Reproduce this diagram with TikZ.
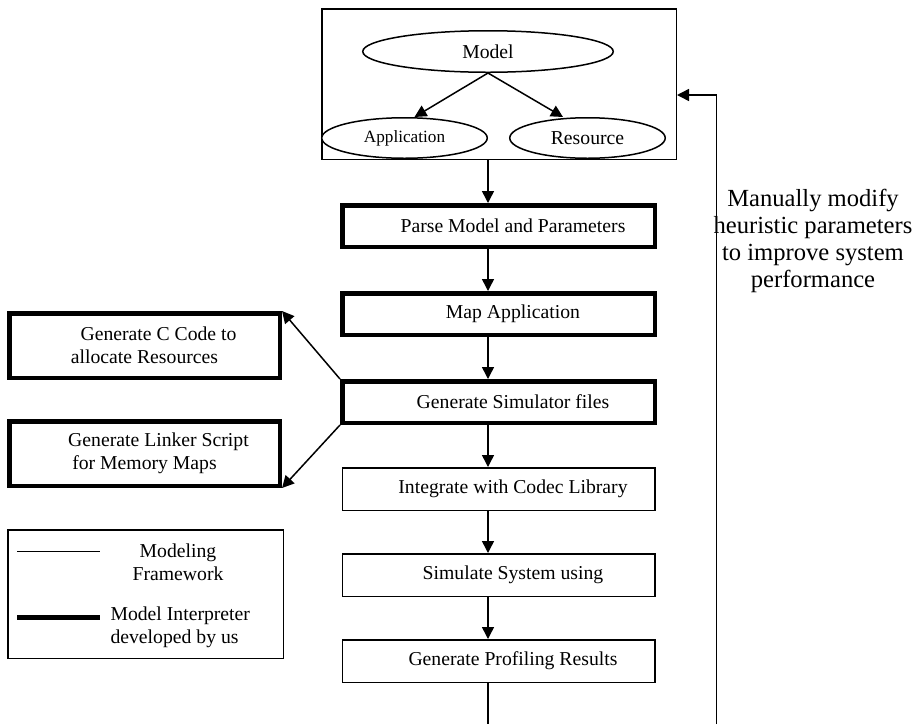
\documentclass[tikz,border=0pt]{standalone}
\usepackage{fontspec}
\setmainfont{Liberation Serif}
\usepackage{tikz}
\usetikzlibrary{positioning}
\usetikzlibrary{shapes.geometric}
\usetikzlibrary{arrows.meta}
\newcommand{\boxfont}{\fontsize{19.7}{22.6}\selectfont}
\tikzset{thinbox/.style = {draw, line width=1.5pt, minimum width=312.5pt, minimum height=42.5pt, font=\boxfont, execute at begin node={\hspace*{29pt}}}}
\tikzset{thickbox/.style = {thinbox, line width=4.5pt, minimum height=41.5pt}}
\tikzset{sidebox/.style = {draw, line width=4.5pt, minimum width=270.5pt, minimum height=64.5pt, align=center, font=\boxfont}}
\tikzset{oval/.style = {draw, ellipse, line width=1.5pt, fill=white, font=\boxfont}}
\tikzset{arr/.style = {line width=1.5pt, -{Triangle[length=12pt,width=12pt]}}}

\begin{document}
\begin{tikzpicture}[x=1pt, y=-1pt,
  node distance = 42pt,
]
\useasboundingbox (0,0) rectangle (922,724);

% model
\node[draw, line width=1.5pt, minimum width=354.5pt, minimum height=150.5pt] (modelbox) at (499,84) {};
\node[oval, minimum width=250.5pt, minimum height=41.5pt] (model) at (488,51.5) {Model};
\node[oval, minimum width=165.5pt, minimum height=40.5pt, font=\fontsize{17.2}{20}\selectfont] (app) at (404.5,138) {Application};
\node[oval, minimum width=155.5pt, minimum height=40.5pt] (res) at (587.5,138) {Resource};

% flow
\node[thickbox] (parse) at (498.5,226) {Parse Model and Parameters};
\node[thickbox, below=of parse] (map) {Map Application};
\node[thickbox, below=of map] (simfiles) {Generate Simulator files};
\node[thinbox, below=of simfiles] (codec) {Integrate with Codec Library};
\node[thinbox, below=of codec] (simulate) {Simulate System using};
\node[thinbox, below=of simulate] (profile) {Generate Profiling Results};

% generated files
\node[sidebox] (ccode) at (144.5,345.5) {\hspace*{28pt}Generate C Code to\\allocate Resources};
\node[sidebox, below=39pt of ccode] (linker) {\hspace*{28pt}Generate Linker Script\\for Memory Maps};

% legend
\node[draw, line width=1.5pt, minimum width=275.5pt, minimum height=128.5pt] (legend) at (145.5,594) {};
\draw[line width=1pt] (17,551) -- (100,551);
\draw[line width=5pt] (17,617) -- (100,617);
\node[font=\boxfont, align=center] (thinkey) at (178,562) {Modeling\\Framework};
\node[font=\boxfont, align=left, anchor=west] (thickkey) at (107,627.5) {Model Interpreter\\developed by us};

\node[font=\fontsize{24.6}{26.7}\selectfont, align=center] (manual) at (813,241) {Manually modify\\heuristic parameters\\to improve system\\performance};

\draw[arr]  (model.south) -- ([xshift=10pt]app.north);
\draw[arr]  (model.south) -- ([xshift=-24.5pt]res.north);
\draw[arr]  (modelbox.south -| model) -- (parse.north -| model);
\draw[arr]  (parse.south -| model) -- (map.north -| model);
\draw[arr]  (map.south -| model) -- (simfiles.north -| model);
\draw[arr]  (simfiles.south -| model) -- (codec.north -| model);
\draw[arr]  (codec.south -| model) -- (simulate.north -| model);
\draw[arr]  (simulate.south -| model) -- (profile.north -| model);
\draw[arr]  (simfiles.north west) -- (ccode.north east);
\draw[arr]  (simfiles.south west) -- (linker.south east);

% loop back, cut off at the bottom
\coordinate (flowend) at (488,724);
\coordinate (loopend) at (716.5,724);
\draw[line width=1.5pt]  (profile.south -| model) -- (flowend);
\draw[arr]  (loopend) |- ([yshift=-11pt]modelbox.east);

\end{tikzpicture}
\end{document}
